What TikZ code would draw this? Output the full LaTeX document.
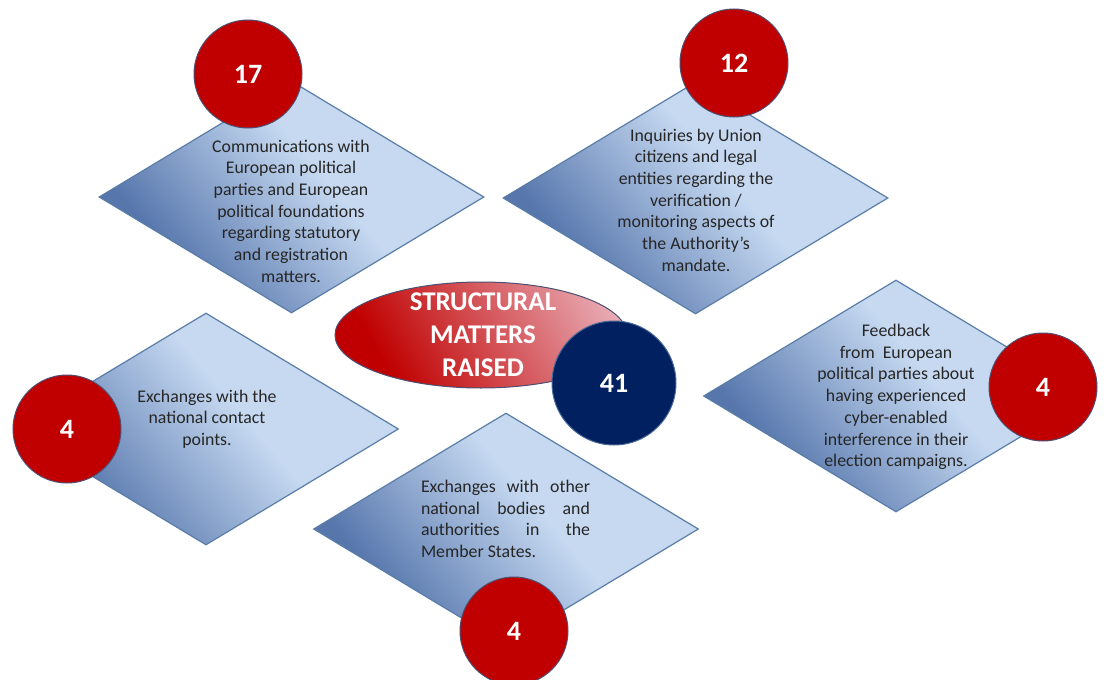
\documentclass[tikz,border=0pt]{standalone}
\usepackage{fontspec}
\setmainfont{Carlito}
\usetikzlibrary{shapes.geometric}
\definecolor{ltb}{HTML}{C6D9F1}
\definecolor{dkb}{HTML}{5676AC}
\definecolor{edgeb}{HTML}{5A7DA8}
\definecolor{redc}{HTML}{C00000}
\definecolor{navyc}{HTML}{002060}
\definecolor{pinkc}{HTML}{E8AAB3}
\definecolor{txtc}{HTML}{262626}
\definecolor{ringc}{HTML}{4E4E70}
\definecolor{navyring}{HTML}{4A6A9A}
\pgfdeclarehorizontalshading{dshade}{100bp}{color(0bp)=(dkb); color(29bp)=(dkb); color(56bp)=(ltb); color(100bp)=(ltb)}
\pgfdeclarehorizontalshading{eshade}{100bp}{color(0bp)=(redc); color(28bp)=(redc); color(78bp)=(pinkc); color(100bp)=(pinkc)}
\tikzset{
  dia/.style={diamond, draw=edgeb, line width=1.2pt, minimum width=385pt, minimum height=232pt, inner sep=0pt, shading=dshade, shading angle=40},
  num/.style={circle, draw=ringc, line width=1pt, fill=redc, minimum size=108pt, inner sep=0pt, text=white, font=\bfseries\fontsize{28}{28}\selectfont},
  dtext/.style={align=center, text=txtc, inner sep=0pt, font=\fontsize{17.8}{21.7}\selectfont}
}
\begin{document}
\begin{tikzpicture}[x=1pt,y=-1pt]
\useasboundingbox (0,0) rectangle (1104,680);
% diamonds
\node[dia] (d1) at (291.5,197) {};
\node[dia] (d2) at (695.5,198) {};
\node[dia] (d3) at (206,429) {};
\node[dia] (d4) at (896,396) {};
\node[dia] (d5) at (506,529) {};
% diamond texts
\node[dtext] (t1) at (291,211) {Communications with\\European political\\parties and European\\political foundations\\regarding statutory\\and registration\\matters.};
\node[dtext] (t2) at (696,200) {Inquiries by Union\\citizens and legal\\entities regarding the\\verification /\\monitoring aspects of\\the Authority’s\\mandate.};
\node[dtext] (t3) at (207,419) {Exchanges with the\\national contact\\points.};
\node[dtext] (t4) at (896,397) {Feedback\\from\ \ European\\political parties about\\having experienced\\cyber-enabled\\interference in their\\election campaigns.};
\node[dtext, text width=169pt, align=justify] (t5) at (505.5,519) {Exchanges with other\linebreak national bodies and\linebreak authorities in the\linebreak Member States.};
% central ellipse
\node[ellipse, draw=ringc, line width=1pt, minimum width=292pt, minimum height=106pt, inner sep=0pt, shading=eshade, shading angle=30] (e) at (481,335) {};
\node[align=center, text=white, inner sep=0pt, font=\bfseries\fontsize{27}{33}\selectfont] (et) at (483,335) {STRUCTURAL\\MATTERS\\RAISED};
\node[circle, draw=navyring, line width=1pt, fill=navyc, minimum size=124pt, inner sep=0pt, text=white, font=\bfseries\fontsize{28}{28}\selectfont] (tot) at (614,383) {41};
% number circles
\node[num] (n1) at (248,74) {17};
\node[num] (n2) at (734,63) {12};
\node[num] (n3) at (67,429) {4};
\node[num] (n4) at (1043,387) {4};
\node[num] (n5) at (514,631) {4};
\end{tikzpicture}
\end{document}
